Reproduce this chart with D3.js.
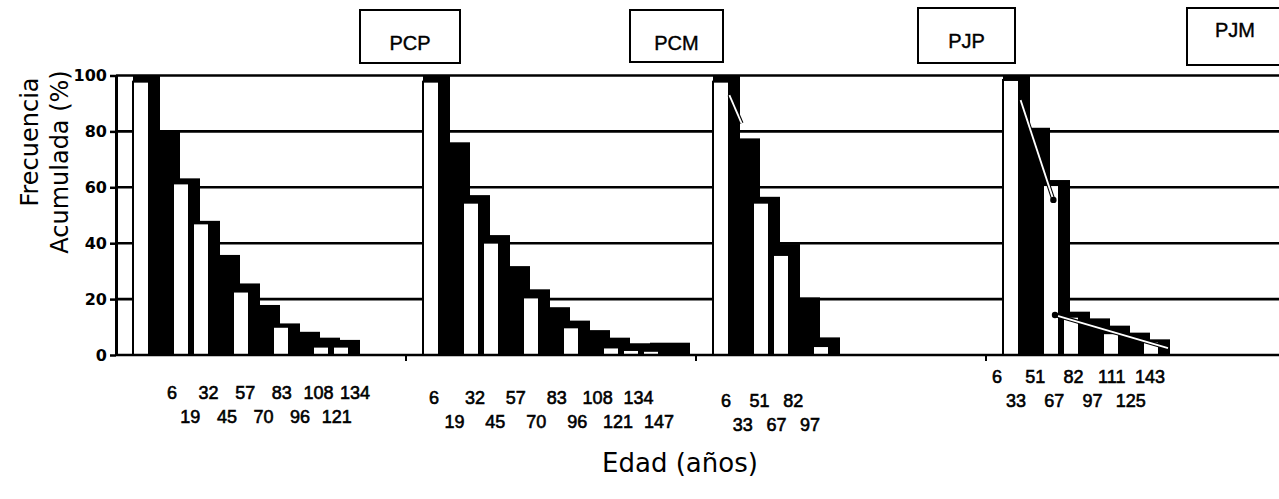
<!DOCTYPE html>
<html>
<head>
<meta charset="utf-8">
<script src="https://cdn.jsdelivr.net/npm/d3@7/dist/d3.min.js"></script>
<style>
  body { margin: 0; background: #fff; }
  svg { display: block; }
</style>
</head>
<body>
<svg id="chart" width="1279" height="499"></svg>
<script>
// Cumulative frequency (%) by age class for the four groups
const panels = ["PCP", "PCM", "PJP", "PJM"];
const yTicks = [0, 20, 40, 60, 80, 100];

// dark staircase bars, one per age class
const darkPCP = [100, 80.5, 63.2, 48, 35.8, 25.6, 17.9, 11.3, 8.3, 6.2, 5.4];
const darkPCM = [100, 76.1, 57.2, 42.9, 31.8, 23.5, 17.1, 12.3, 8.9, 6.2, 4.2, 4.4, 4.4];
const darkPJP = [100, 77.5, 56.6, 39.7, 20.6, 6.3];
const darkPJM = [100, 81.3, 62.6, 15.5, 13.1, 10.5, 8, 5.6];

// open (white) bars; null where the class has none
const lightPCP = [97.8, null, 61.4, 47.1, null, 22.7, null, 10.1, null, 3, 3];
const lightPCM = [97.8, null, 54.5, 40.2, null, 20.6, null, 9.9, null, 2.7, 1.8, 1.5, null];
const lightPJP = [97.8, null, 54.5, 35.8, null, 3.2];
const lightPJM = [98.4, null, 60.8, 13.7, null, 7.8, null, 4.8];

// age labels (years) printed under each group
const agesPCP = [6, 19, 32, 45, 57, 70, 83, 96, 108, 121, 134];
const agesPCM = [6, 19, 32, 45, 57, 70, 83, 96, 108, 121, 134, 147];
const agesPJP = [6, 33, 51, 67, 82, 97];
const agesPJM = [6, 33, 51, 67, 82, 97, 111, 125, 143];

// fitted trend segments: [age-class position, %]
const fitPJP = [[[0.47, 93], [1.08, 82.9]]];
const fitPJM = [[[0.53, 91.2], [2.17, 55.5]], [[2.25, 14.3], [7.9, 2.5]]];

const series = {
  PCP: { dark: darkPCP, light: lightPCP, ages: agesPCP, fits: [] },
  PCM: { dark: darkPCM, light: lightPCM, ages: agesPCM, fits: [] },
  PJP: { dark: darkPJP, light: lightPJP, ages: agesPJP, fits: fitPJP },
  PJM: { dark: darkPJM, light: lightPJM, ages: agesPJM, fits: fitPJM }
};

// ---- layout ----
const W = 1279;
const axisX = 116;
const svg = d3.select("#chart");

const y = d3.scaleLinear().domain([0, 100]).range([355, 75.5]);
const panelX = d3.scaleBand().domain(panels).range([140, 1300]).paddingInner(0);
const classX = d3.scaleLinear().domain([0, 1]).range([0, 20]);
const step = classX(1) - classX(0);
const lightShift = -7, lightWidth = 16;

// age-label spans and the two rows they alternate between
const labelLayout = {
  PCP: { range: [172, 355], rows: [399, 423] },
  PCM: { range: [434, 659], rows: [404, 428] },
  PJP: { range: [726, 810], rows: [407, 431] },
  PJM: { range: [997, 1150], rows: [383, 407] }
};
const boxLayout = {
  PCP: { dx: 220, w: 100, y0: 10, y1: 63, base: 50 },
  PCM: { dx: 200, w: 93, y0: 10, y1: 62, base: 50 },
  PJP: { dx: 198, w: 97, y0: 8, y1: 63, base: 48 },
  PJM: { dx: 177, w: 96, y0: 8, y1: 65, base: 37 }
};

// gridlines
svg.append("g")
  .selectAll("line")
  .data(yTicks.filter(d => d > 0))
  .join("line")
  .attr("x1", axisX).attr("x2", W)
  .attr("y1", d => y(d)).attr("y2", d => y(d))
  .attr("stroke", "#000").attr("stroke-width", 2.6);

// bars
panels.forEach(p => {
  const s = series[p];
  const x0 = panelX(p);
  const g = svg.append("g").attr("transform", `translate(${x0},0)`);

  g.selectAll("rect.dark")
    .data(s.dark)
    .join("rect")
    .attr("class", "dark")
    .attr("x", (d, i) => i === 0 ? classX(0) + lightShift : classX(i))
    .attr("width", (d, i) => i === 0 ? step - lightShift : step)
    .attr("y", d => y(d))
    .attr("height", d => y(0) - y(d))
    .attr("fill", "#000");

  g.selectAll("rect.light")
    .data(s.light.map((v, i) => ({ v, i })).filter(d => d.v != null))
    .join("rect")
    .attr("class", "light")
    .attr("x", d => classX(d.i) + lightShift)
    .attr("width", lightWidth)
    .attr("y", d => y(d.v))
    .attr("height", d => y(0) - y(d.v))
    .attr("fill", "#fff")
    .attr("stroke", "#000")
    .attr("stroke-width", 2);

  // trend segments
  const line = d3.line().x(d => classX(d[0])).y(d => y(d[1]));
  s.fits.forEach(seg => {
    g.append("path").attr("d", line(seg))
      .attr("fill", "none").attr("stroke", "#000").attr("stroke-width", 4);
    g.append("path").attr("d", line(seg))
      .attr("fill", "none").attr("stroke", "#fff").attr("stroke-width", 1.8);
  });
  if (p === "PJM") {
    g.append("circle").attr("cx", classX(s.fits[0][1][0])).attr("cy", y(s.fits[0][1][1]))
      .attr("r", 3.2).attr("fill", "#000");
    g.append("circle").attr("cx", classX(s.fits[1][0][0])).attr("cy", y(s.fits[1][0][1]))
      .attr("r", 3.2).attr("fill", "#000");
  }

  // panel separator tick on the base line
  if (p !== panels[0]) {
    svg.append("line")
      .attr("x1", x0 - 24).attr("x2", x0 - 24)
      .attr("y1", y(0)).attr("y2", y(0) + 6)
      .attr("stroke", "#000").attr("stroke-width", 2);
  }

  // age labels in two staggered rows
  const L = labelLayout[p];
  const ageX = d3.scalePoint().domain(s.ages).range(L.range);
  svg.append("g")
    .selectAll("text")
    .data(s.ages)
    .join("text")
    .attr("x", d => ageX(d))
    .attr("y", (d, i) => L.rows[i % 2])
    .attr("text-anchor", "middle")
    .attr("font-family", "'Liberation Sans', Arial, sans-serif")
    .attr("font-size", 18)
    .attr("fill", "#000")
    .attr("stroke", "#000").attr("stroke-width", 0.6)
    .text(d => d);

  // group title box
  const B = boxLayout[p];
  const bx = x0 + B.dx;
  svg.append("rect")
    .attr("x", bx).attr("y", B.y0)
    .attr("width", B.w).attr("height", B.y1 - B.y0)
    .attr("fill", "#fff").attr("stroke", "#000").attr("stroke-width", 2);
  svg.append("text")
    .attr("x", bx + B.w / 2).attr("y", B.base)
    .attr("text-anchor", "middle")
    .attr("font-family", "'Liberation Sans', Arial, sans-serif")
    .attr("font-size", 20)
    .attr("fill", "#000")
    .attr("stroke", "#000").attr("stroke-width", 0.4)
    .text(p);
});

// base line
svg.append("line")
  .attr("x1", axisX).attr("x2", W)
  .attr("y1", y(0)).attr("y2", y(0))
  .attr("stroke", "#000").attr("stroke-width", 2.4);

// y axis
const yAxis = d3.axisLeft(y).tickValues(yTicks).tickSize(6).tickSizeOuter(0).tickPadding(3);
const ya = svg.append("g").attr("transform", `translate(${axisX},0)`).call(yAxis);
ya.select(".domain").attr("stroke", "#000").attr("stroke-width", 3);
ya.selectAll(".tick line").attr("stroke", "#000").attr("stroke-width", 2.5);
ya.selectAll(".tick text")
  .attr("font-family", "'DejaVu Sans', sans-serif")
  .attr("font-weight", "bold")
  .attr("font-size", 16)
  .attr("fill", "#000");

// axis titles
const titleFont = "'DejaVu Sans', sans-serif";
svg.append("text")
  .attr("transform", "translate(38,142) rotate(-90)")
  .attr("text-anchor", "middle")
  .attr("font-family", titleFont).attr("font-size", 24).attr("fill", "#000")
  .text("Frecuencia");
svg.append("text")
  .attr("transform", "translate(68,162) rotate(-90)")
  .attr("text-anchor", "middle")
  .attr("font-family", titleFont).attr("font-size", 24).attr("fill", "#000")
  .text("Acumulada (%)");
svg.append("text")
  .attr("x", 680).attr("y", 472)
  .attr("text-anchor", "middle")
  .attr("font-family", titleFont).attr("font-size", 26).attr("fill", "#000")
  .text("Edad (años)");
</script>
</body>
</html>
